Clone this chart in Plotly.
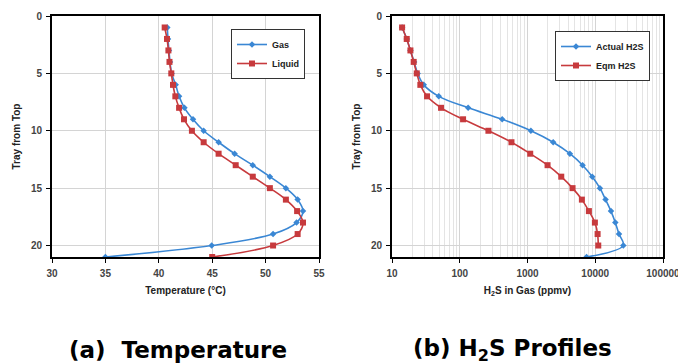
import plotly.graph_objects as go

trays = list(range(1, 22))
gas_temp = [40.8, 40.86, 40.95, 41.05, 41.2, 41.58, 41.9, 42.4, 43.2, 44.2, 45.6,
            47.1, 48.8, 50.4, 51.9, 53.0, 53.5, 52.9, 50.7, 44.95, 35.0]
liquid_temp = [40.55, 40.77, 40.9, 41.0, 41.17, 41.33, 41.55, 41.9, 42.36, 43.1, 44.2,
               45.6, 47.2, 48.8, 50.4, 51.9, 52.95, 53.5, 53.0, 50.7, 45.0]
actual_h2s = [14.1, 16.5, 18.7, 21.2, 23.9, 29.4, 49, 133, 423, 1122, 2393,
              4225, 6500, 9040, 11730, 14200, 17060, 19770, 22400, 25950, 7450]
eqm_trays = list(range(1, 21))
eqm_h2s = [14.1, 16.5, 18.7, 20.9, 23.2, 26.2, 32.9, 53, 112, 265, 580,
           1097, 1977, 3150, 4625, 6350, 8060, 9880, 10830, 11080]

temp_ticks = [30, 35, 40, 45, 50, 55]
ppm_ticks = [10, 100, 1000, 10000, 100000]
ppm_tick_text = ["10", "100", "1000", "10000", "100000"]
tray_ticks = [0, 5, 10, 15, 20]

BLUE = "#3a87d4"
RED = "#c73a3d"
FONT = "Liberation Sans, Arial, sans-serif"
BIG_FONT = "DejaVu Sans, Liberation Sans, Arial, sans-serif"
GRID = "#d4d4d4"

fig = go.Figure()
fig.add_trace(go.Scatter(x=gas_temp, y=trays, name="Gas", mode="lines+markers",
                         line=dict(color=BLUE, width=1.6, shape="spline"),
                         marker=dict(symbol="diamond", size=5, color=BLUE),
                         xaxis="x", yaxis="y", legend="legend"))
fig.add_trace(go.Scatter(x=liquid_temp, y=trays, name="Liquid", mode="lines+markers",
                         line=dict(color=RED, width=1.6, shape="spline"),
                         marker=dict(symbol="square", size=6, color=RED),
                         xaxis="x", yaxis="y", legend="legend"))
fig.add_trace(go.Scatter(x=actual_h2s, y=trays, name="Actual H2S", mode="lines+markers",
                         line=dict(color=BLUE, width=1.6, shape="spline"),
                         marker=dict(symbol="diamond", size=5, color=BLUE),
                         xaxis="x2", yaxis="y2", legend="legend2"))
fig.add_trace(go.Scatter(x=eqm_h2s, y=eqm_trays, name="Eqm H2S", mode="lines+markers",
                         line=dict(color=RED, width=1.6, shape="spline"),
                         marker=dict(symbol="square", size=6, color=RED),
                         xaxis="x2", yaxis="y2", legend="legend2"))

W, H = 678, 364
def px_x(p): return p / W
def px_y(p): return 1 - p / H

axis_common = dict(showline=True, linecolor="black", linewidth=2, mirror=True,
                   ticks="outside", ticklen=4, tickcolor="black", tickwidth=1,
                   gridcolor=GRID, gridwidth=1, zeroline=False, automargin=False,
                   ticklabelstandoff=2, ticklabeloverflow="allow",
                   tickfont=dict(family=FONT, size=10, color="#444", weight="bold"))

title_font = dict(family=FONT, size=10, color="#222", weight="bold")

fig.update_layout(
    width=W, height=H, margin=dict(l=0, r=0, t=0, b=0, autoexpand=False),
    paper_bgcolor="white", plot_bgcolor="white",
    font=dict(family=FONT, size=10, color="#333"),
    xaxis=dict(domain=[px_x(52), px_x(319)], range=[30, 55], tickvals=temp_ticks,
               anchor="y",
               title=dict(text="Temperature (°C)", standoff=9, font=title_font),
               **axis_common),
    yaxis=dict(domain=[px_y(257), px_y(16)], range=[21, 0], tickvals=tray_ticks,
               anchor="x",
               title=dict(text="Tray from Top", standoff=8, font=title_font),
               **axis_common),
    xaxis2=dict(domain=[px_x(392), px_x(663)], type="log", range=[1, 5],
                tickvals=ppm_ticks, ticktext=ppm_tick_text, anchor="y2",
                minor=dict(showgrid=True, gridcolor="#e4e4e4", gridwidth=1, dtick="D1"),
                title=dict(text="H<sub>2</sub>S in Gas (ppmv)", standoff=9, font=title_font),
                **axis_common),
    yaxis2=dict(domain=[px_y(257), px_y(16)], range=[21, 0], tickvals=tray_ticks,
                anchor="x2",
                title=dict(text="Tray from Top", standoff=8, font=title_font),
                **axis_common),
    legend=dict(x=px_x(231), y=px_y(29), xanchor="left", yanchor="top",
                bgcolor="white", bordercolor="#333", borderwidth=1,
                font=dict(family=FONT, size=9, color="#222", weight="bold"),
                tracegroupgap=0, itemwidth=30),
    legend2=dict(x=px_x(555), y=px_y(31), xanchor="left", yanchor="top",
                 bgcolor="white", bordercolor="#333", borderwidth=1,
                 font=dict(family=FONT, size=9, color="#222", weight="bold"),
                 tracegroupgap=0, itemwidth=30),
    showlegend=True,
    annotations=[
        dict(text="<b>(a)  Temperature</b>", x=px_x(178), y=px_y(350),
             xref="paper", yref="paper", showarrow=False,
             xanchor="center", yanchor="middle",
             font=dict(family=BIG_FONT, size=23, color="black")),
        dict(text="<b>(b) H<sub>2</sub>S Profiles</b>", x=px_x(512), y=px_y(350),
             xref="paper", yref="paper", showarrow=False,
             xanchor="center", yanchor="middle",
             font=dict(family=BIG_FONT, size=23, color="black")),
    ],
)

fig.write_html("out.html", config={"displayModeBar": False},
               post_script="document.body.style.margin='0';")
